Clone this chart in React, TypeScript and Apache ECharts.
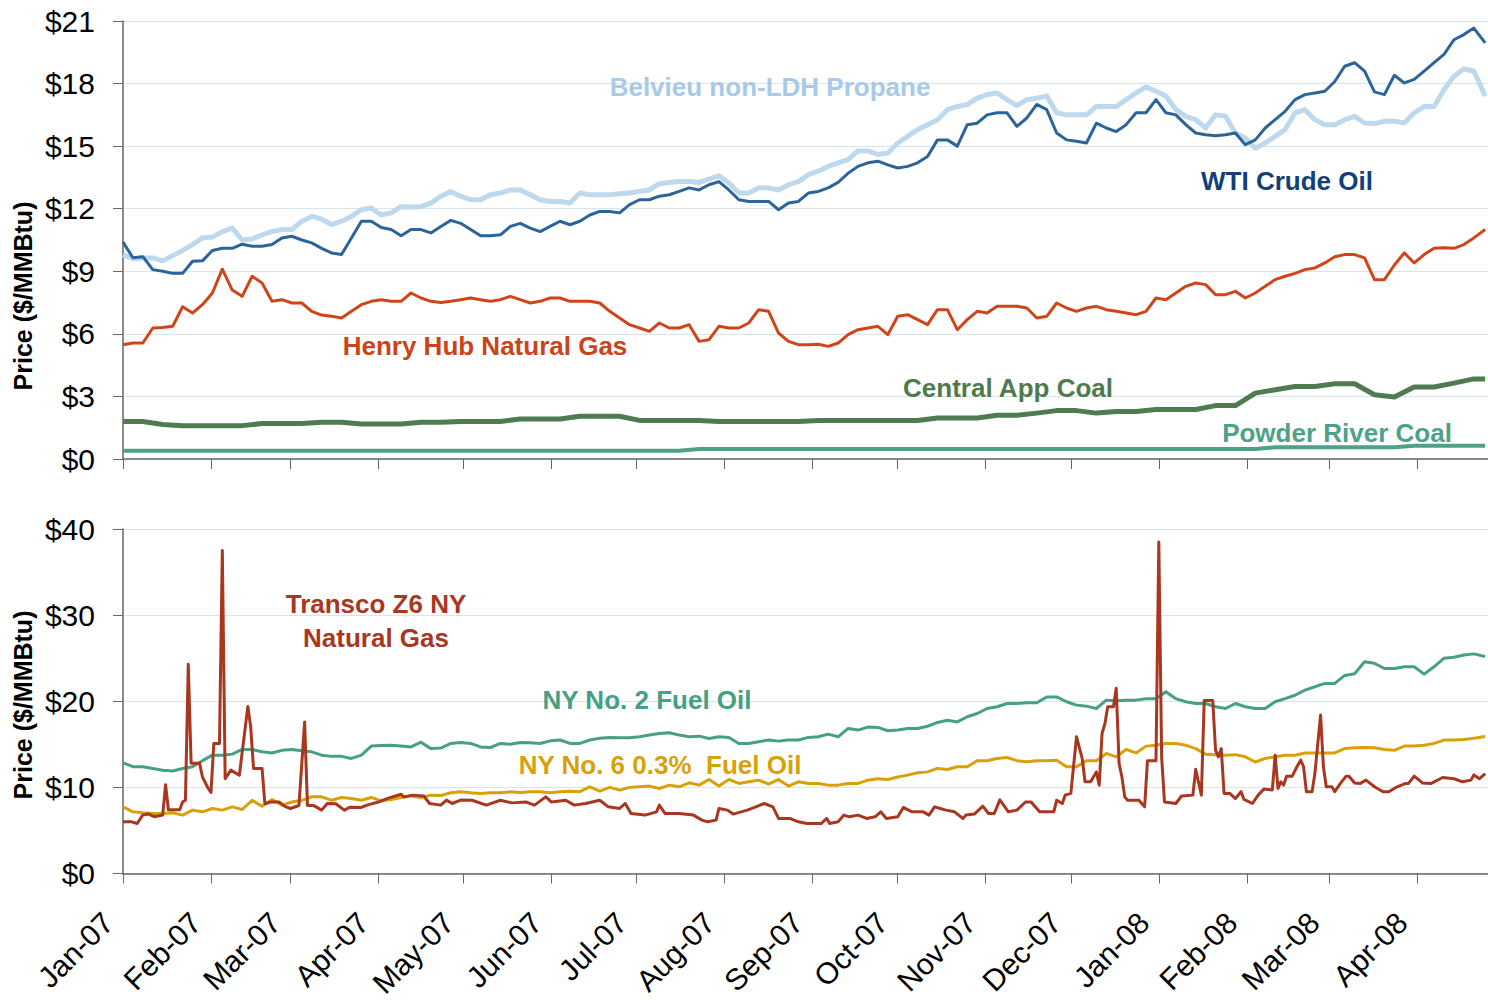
import React, { useEffect, useRef } from "react";
import * as echarts from "echarts";

const FONT = "'Liberation Sans', Arial, Helvetica, sans-serif";

// x positions are days since 1 Jan 2007
const monthDays = [0, 31, 59, 90, 120, 151, 181, 212, 243, 273, 304, 334, 365, 396, 425, 456];
const monthLabels = ["Jan-07", "Feb-07", "Mar-07", "Apr-07", "May-07", "Jun-07", "Jul-07", "Aug-07", "Sep-07", "Oct-07", "Nov-07", "Dec-07", "Jan-08", "Feb-08", "Mar-08", "Apr-08"];

const weekDays = [0, 7, 14, 21, 28, 35, 42, 49, 56, 63, 70, 77, 84, 91, 98, 105, 112, 119, 126, 133, 140, 147, 154, 161, 168, 175, 182, 189, 196, 203, 210, 217, 224, 231, 238, 245, 252, 259, 266, 273, 280, 287, 294, 301, 308, 315, 322, 329, 336, 343, 350, 357, 364, 371, 378, 385, 392, 399, 406, 413, 420, 427, 434, 441, 448, 455, 462, 469, 476, 480];

const midWeekDays = [3.5, 10.5, 17.5, 24.5, 31.5, 38.5, 45.5, 52.5, 59.5, 66.5, 73.5, 80.5, 87.5, 94.5, 101.5, 108.5, 115.5, 122.5, 129.5, 136.5, 143.5, 150.5, 157.5, 164.5, 171.5, 178.5, 185.5, 192.5, 199.5, 206.5, 213.5, 220.5, 227.5, 234.5, 241.5, 248.5, 255.5, 262.5, 269.5, 276.5, 283.5, 290.5, 297.5, 304.5, 311.5, 318.5, 325.5, 332.5, 339.5, 346.5, 353.5, 360.5, 367.5, 374.5, 381.5, 388.5, 395.5, 402.5, 409.5, 416.5, 423.5, 430.5, 437.5, 444.5, 451.5, 458.5, 465.5, 472.5];

const wtiCrude = [10.4, 9.7, 9.0, 8.9, 9.5, 10.1, 10.3, 10.2, 10.6, 10.5,
  10.1, 9.8, 11.4, 11.1, 10.7, 11.0, 11.15, 11.3, 10.7, 10.75,
  11.3, 10.9, 11.4, 11.4, 11.87, 11.8, 12.43, 12.6, 12.83, 12.9,
  13.3, 12.43, 12.35, 11.95, 12.35, 12.83, 13.26, 14.03, 14.28, 13.95,
  14.2, 15.3, 15.0, 16.1, 16.6, 15.95, 17.0, 15.63, 15.23, 16.1,
  15.7, 16.6, 17.23, 16.5, 15.63, 15.5, 15.63, 15.3, 16.27, 17.23,
  17.55, 18.1, 19.0, 17.6, 18.4, 18.2, 19.0, 20.1, 20.66, 19.95];
const wtiCrudeMid = [9.65, 9.08, 8.9, 9.48, 10.0, 10.1, 10.2, 10.28, 10.68, 10.36, 9.88, 10.6, 11.4, 11.0, 11.0, 10.84, 11.44,
  11.0, 10.7, 11.15, 11.07, 11.15, 11.23, 11.7, 11.87, 12.2, 12.43, 12.67, 13.0, 13.15, 12.9, 12.35, 12.35, 12.27, 12.75,
  13.0, 13.7, 14.2, 14.1, 14.03, 14.5, 15.3, 16.03, 16.5, 16.6, 16.35, 16.75, 15.3, 15.15, 15.87, 16.03, 16.6, 16.6,
  16.03, 15.55, 15.55, 15.07, 15.87, 16.67, 17.47, 17.63, 18.83, 18.6, 17.47, 18.03, 18.6, 19.4, 20.35];

const propane = [9.8, 9.64, 9.5, 10.0, 10.6, 10.9, 10.5, 10.75, 11.0, 11.4,
  11.5, 11.4, 11.95, 11.7, 12.1, 12.1, 12.6, 12.6, 12.43, 12.75,
  12.9, 12.43, 12.35, 12.75, 12.67, 12.72, 12.83, 13.2, 13.3, 13.26,
  13.58, 12.75, 13.0, 12.9, 13.3, 13.8, 14.2, 14.77, 14.6, 15.15,
  15.8, 16.27, 16.9, 17.3, 17.55, 16.95, 17.3, 16.6, 16.5, 16.9,
  16.9, 17.55, 17.63, 16.75, 16.27, 16.5, 15.63, 14.9, 15.47, 16.59,
  16.27, 16.03, 16.43, 16.08, 16.2, 16.6, 16.9, 18.35, 18.6, 17.4];
const propaneMid = [9.6, 9.64, 9.75, 10.28, 10.64, 11.07, 10.55, 10.9, 11.0, 11.63, 11.24, 11.63, 12.03, 11.8, 12.08, 12.27, 12.83,
  12.43, 12.67, 12.9, 12.67, 12.35, 12.27, 12.67, 12.67, 12.75, 12.9, 13.26, 13.3, 13.42, 13.23, 12.75, 13.0, 13.15, 13.63,
  14.03, 14.35, 14.77, 14.67, 15.47, 16.03, 16.75, 16.99, 17.47, 17.23, 17.23, 17.4, 16.5, 16.5, 16.9, 17.23, 17.84, 17.4,
  16.43, 15.87, 16.43, 15.39, 15.15, 15.79, 16.75, 16.03, 16.27, 16.11, 16.19, 16.11, 16.9, 17.7, 18.7];

const henryHub = [5.48, 5.56, 6.3, 7.3, 7.4, 9.1, 7.8, 8.44, 7.64, 7.48,
  6.9, 6.76, 7.4, 7.64, 7.56, 7.72, 7.5, 7.64, 7.64, 7.64,
  7.64, 7.56, 7.72, 7.56, 7.48, 6.76, 6.28, 6.52, 6.28, 5.64,
  6.36, 6.28, 7.16, 6.04, 5.48, 5.5, 5.56, 6.2, 6.36, 6.84,
  6.68, 7.16, 6.2, 7.08, 7.32, 7.32, 6.76, 7.48, 7.08, 7.32,
  7.08, 6.92, 7.72, 7.96, 8.44, 7.88, 8.04, 7.96, 8.6, 8.9,
  9.16, 9.7, 9.8, 8.6, 9.3, 9.4, 10.1, 10.1, 10.6, 11.0];
const henryHubMid = [5.56, 6.28, 6.36, 7.0, 7.96, 8.1, 8.76, 7.56, 7.48, 7.08, 6.84, 7.08, 7.56, 7.56, 7.96, 7.56, 7.56,
  7.72, 7.56, 7.8, 7.48, 7.72, 7.56, 7.56, 7.08, 6.44, 6.12, 6.28, 6.44, 5.72, 6.28, 6.52, 7.08, 5.64, 5.48,
  5.4, 5.96, 6.28, 5.96, 6.92, 6.44, 7.16, 6.68, 7.0, 7.32, 7.24, 6.84, 7.24, 7.24, 7.16, 7.0, 7.08, 7.64,
  8.28, 8.36, 7.88, 7.72, 8.28, 8.76, 9.08, 9.4, 9.8, 9.64, 8.6, 9.88, 9.8, 10.13, 10.28];

const centralAppCoal = [1.8, 1.8, 1.65, 1.6, 1.6, 1.6, 1.6, 1.7, 1.7, 1.7,
  1.76, 1.76, 1.68, 1.68, 1.68, 1.76, 1.76, 1.8, 1.8, 1.8,
  1.92, 1.92, 1.92, 2.05, 2.05, 2.05, 1.85, 1.85, 1.85, 1.85,
  1.8, 1.8, 1.8, 1.8, 1.8, 1.85, 1.85, 1.85, 1.85, 1.85,
  1.85, 1.97, 1.97, 1.97, 2.1, 2.1, 2.2, 2.32, 2.32, 2.2,
  2.28, 2.28, 2.37, 2.37, 2.37, 2.56, 2.56, 3.16, 3.32, 3.48,
  3.48, 3.61, 3.61, 3.08, 2.97, 3.45, 3.45, 3.64, 3.84, 3.84];

const powderRiverCoal = [0.4, 0.4, 0.4, 0.4, 0.4, 0.4, 0.4, 0.4, 0.4, 0.4,
  0.4, 0.4, 0.4, 0.4, 0.4, 0.4, 0.4, 0.4, 0.4, 0.4,
  0.4, 0.4, 0.4, 0.4, 0.4, 0.4, 0.4, 0.4, 0.4, 0.48,
  0.48, 0.48, 0.48, 0.48, 0.48, 0.48, 0.48, 0.48, 0.48, 0.48,
  0.48, 0.48, 0.48, 0.48, 0.48, 0.48, 0.48, 0.48, 0.48, 0.48,
  0.48, 0.48, 0.48, 0.48, 0.48, 0.48, 0.48, 0.48, 0.56, 0.56,
  0.56, 0.56, 0.56, 0.56, 0.56, 0.64, 0.64, 0.64, 0.64, 0.64];

const nyNo2FuelOil = [12.85, 12.4, 12.0, 12.2, 13.1, 13.74, 14.4, 14.13, 14.3, 14.25,
  13.74, 13.6, 13.74, 14.87, 14.8, 15.25, 14.56, 15.2, 14.7, 15.1,
  15.2, 15.1, 15.5, 15.1, 15.7, 15.76, 15.87, 16.26, 16.07, 15.95,
  15.87, 15.1, 15.3, 15.37, 15.5, 15.87, 15.87, 16.65, 16.96, 16.65,
  16.84, 17.54, 17.6, 18.58, 19.36, 19.74, 19.82, 20.5, 19.55, 19.16,
  20.05, 20.13, 20.3, 20.3, 19.74, 19.36, 19.74, 19.16, 19.94, 20.7,
  21.68, 22.07, 23.2, 24.4, 23.8, 24.0, 24.0, 25.1, 25.5, 25.2];
const nyNo2FuelOilMid = [12.4, 12.2, 11.9, 12.4, 13.74, 13.86, 14.4, 14.0, 14.4, 14.13, 13.6, 13.36, 14.8, 14.9, 14.7, 14.5, 15.1,
  15.1, 14.63, 15.0, 15.18, 15.4, 15.1, 15.5, 15.8, 15.76, 16.07, 16.34, 15.87, 15.68, 15.8, 15.1, 15.5, 15.5, 15.8,
  16.18, 16.84, 17.0, 16.57, 16.84, 17.1, 17.8, 18.2, 19.16, 19.74, 19.82, 20.5, 19.94, 19.43, 20.13, 20.13, 20.3, 21.1,
  19.94, 19.74, 19.16, 19.36, 19.16, 20.3, 21.3, 22.07, 23.0, 24.58, 23.8, 24.0, 23.15, 25.0, 25.36];

const nyNo6FuelOil = [7.74, 7.05, 6.97, 6.78, 7.16, 7.36, 7.43, 7.82, 7.94, 8.5,
  8.9, 8.83, 8.5, 8.44, 8.83, 8.83, 9.06, 9.5, 9.3, 9.37,
  9.4, 9.5, 9.5, 9.5, 9.56, 9.68, 10.07, 9.87, 10.07, 10.26,
  10.15, 10.46, 10.84, 10.92, 10.65, 10.46, 10.26, 10.46, 11.0, 11.2,
  11.7, 12.2, 12.4, 13.1, 13.36, 13.1, 13.1, 13.16, 12.4, 13.1,
  13.55, 14.0, 14.9, 15.1, 14.5, 13.8, 13.8, 12.95, 13.55, 13.74,
  14.0, 14.0, 14.6, 14.6, 14.3, 14.8, 15.1, 15.5, 15.7, 15.9];
const nyNo6FuelOilMid = [7.16, 6.97, 7.05, 7.36, 7.55, 7.74, 8.5, 8.6, 8.3, 8.9, 8.5, 8.7, 8.83, 8.6, 9.0, 9.1, 9.37,
  9.37, 9.37, 9.48, 9.48, 9.37, 9.56, 10.07, 10.0, 10.0, 10.15, 10.26, 10.53, 10.92, 10.92, 10.65, 10.38, 10.15, 10.46,
  10.26, 10.46, 10.84, 10.92, 11.42, 11.8, 12.08, 12.39, 13.09, 13.47, 12.97, 13.09, 12.39, 13.09, 13.94, 14.4, 14.79, 15.1,
  14.9, 13.86, 13.74, 13.55, 13.36, 13.74, 14.0, 14.0, 14.5, 14.63, 14.4, 14.79, 14.9, 15.49, 15.56];

const transcoDays = [0, 3, 5, 7, 9, 11, 14, 15, 16, 20, 21, 22, 23, 24, 27, 28, 30, 31, 32, 34, 35, 36, 38, 41, 44, 45, 46, 49, 50, 52, 55, 57, 59, 62, 64, 65, 67, 68, 70, 72, 75, 78, 80, 84, 86, 90, 93, 98, 99, 102, 106, 108, 112, 114, 116, 119,
  123, 128, 133, 137, 142, 145, 149, 151, 156, 159, 163, 168, 171, 175, 177, 179, 184, 188, 189, 191, 196, 201, 204, 206, 209, 210, 213, 215, 220, 223, 226, 229, 231, 235, 238,
  241, 246, 248, 249, 252, 254, 256, 259, 262, 265, 267, 269, 273, 275, 278, 282, 284, 286, 288, 290, 293, 296, 297, 300, 303, 305, 307, 309, 312, 315, 318, 320, 323, 328, 329, 331, 332, 334, 336, 338, 339, 341, 343, 344, 345, 346, 347, 349, 350, 351, 352, 353, 354, 358, 360, 361, 364, 365, 366, 367,
  371, 373, 377, 378, 380, 381, 384, 385, 386, 387, 388, 390, 392, 394, 395, 398, 400, 402, 405, 406, 407, 408, 409, 410, 412, 414, 415, 416, 417, 419, 420, 422, 423, 424, 426, 427, 429, 431, 432, 434, 436, 438, 441, 444, 446, 449, 452, 453, 455, 458, 461, 465, 469, 472, 475, 476, 478, 480];

const transcoZ6 = [6.0, 6.0, 5.8, 6.8, 6.9, 6.6, 6.8, 10.3, 7.4, 7.4, 8.3, 8.5, 24.3, 12.8, 12.8, 11.2, 9.9, 9.4, 15.1, 15.1, 37.5, 11.0, 12.0, 11.4, 19.4, 17.0, 12.2, 12.2, 8.1, 8.3, 8.3, 7.8, 7.55, 7.9, 17.6, 7.9, 7.9, 7.74, 7.36, 8.13, 8.1, 7.36, 7.7, 7.67, 7.94, 8.3, 8.7, 9.2, 8.9, 9.1, 9.0, 8.13, 7.94, 8.52, 8.13, 8.52,
  8.5, 7.94, 8.5, 8.2, 8.3, 7.94, 8.9, 8.3, 8.5, 7.94, 8.13, 8.5, 7.74, 7.55, 8.13, 6.97, 6.78, 7.16, 7.94, 6.97, 6.97, 6.78, 6.2, 6.0, 6.2, 7.55, 7.36, 6.9, 7.36, 7.74, 8.13, 7.74, 6.39, 6.39, 6.0,
  5.8, 5.8, 6.39, 5.8, 6.0, 6.78, 6.58, 6.78, 6.39, 6.58, 7.16, 6.39, 6.58, 7.67, 7.16, 7.16, 6.78, 7.74, 7.55, 7.36, 7.16, 6.39, 6.78, 6.9, 7.82, 6.97, 6.97, 8.55, 7.16, 7.36, 8.3, 8.3, 7.16, 7.16, 8.5, 8.13, 9.1, 9.3, 15.87, 13.36, 10.65, 10.65, 11.8, 10.26, 16.26, 17.4, 19.36, 19.36, 21.5, 12.78, 11.2, 8.9, 8.5, 8.5, 7.74, 13.1, 13.1, 38.5, 13.5, 8.3,
  8.13, 9.0, 9.1, 12.1, 9.1, 20.1, 20.1, 14.3, 13.55, 14.5, 9.3, 9.3, 8.7, 9.5, 8.6, 8.13, 9.1, 9.8, 9.7, 13.74, 9.87, 10.65, 10.26, 11.3, 11.3, 12.6, 13.16, 12.4, 9.5, 9.5, 11.6, 18.4, 12.4, 10.07, 10.07, 9.5, 10.46, 11.3, 11.3, 10.5, 10.46, 10.84, 10.07, 9.5, 9.5, 10.07, 10.46, 10.46, 11.3, 10.5, 10.46, 11.15, 11.0, 10.65, 10.84, 11.45, 11.0, 11.6];

const pair = (days: number[], vals: number[]) => days.map((d, i) => [d, vals[i]]);
const merged = (daysA: number[], valsA: number[], daysB: number[], valsB: number[]) =>
  pair(daysA, valsA).concat(pair(daysB, valsB)).sort((a, b) => a[0] - b[0]);

function lineSeries(name: string, data: number[][], color: string, width: number, idx: number) {
  return {
    name,
    type: "line",
    xAxisIndex: idx,
    yAxisIndex: idx,
    data,
    showSymbol: false,
    symbol: "none",
    lineStyle: { color, width, join: "round" },
    itemStyle: { color },
  };
}

function label(text: string, x: number, y: number, color: string) {
  return {
    type: "text",
    x,
    y,
    z: 100,
    style: {
      text,
      fill: color,
      font: `bold 26px ${FONT}`,
      align: "center",
      verticalAlign: "middle",
      textAlign: "center",
      textVerticalAlign: "middle",
    },
  };
}

function axisName(x: number, y: number) {
  return {
    type: "text",
    x,
    y,
    rotation: Math.PI / 2,
    z: 100,
    style: {
      text: "Price ($/MMBtu)",
      fill: "#000",
      font: `bold 25px ${FONT}`,
      align: "center",
      verticalAlign: "middle",
      textAlign: "center",
      textVerticalAlign: "middle",
    },
  };
}

const AXIS_COLOR = "#666666";
const GRID_COLOR = "#d6e6ec";

function xAxis(idx: number) {
  return {
    type: "value",
    gridIndex: idx,
    min: 0,
    max: 481,
    axisLine: { show: true, onZero: false, lineStyle: { color: AXIS_COLOR, width: 1.5 } },
    axisTick: { show: true, customValues: monthDays, length: 10, lineStyle: { color: AXIS_COLOR, width: 1 } },
    axisLabel: { show: false },
    splitLine: { show: false },
  };
}

function yAxis(idx: number, max: number, interval: number) {
  return {
    type: "value",
    gridIndex: idx,
    min: 0,
    max,
    interval,
    axisLine: { show: true, lineStyle: { color: AXIS_COLOR, width: 1.5 } },
    axisTick: { show: true, length: 10, lineStyle: { color: AXIS_COLOR, width: 1 } },
    axisLabel: {
      formatter: (v: number) => "$" + v,
      fontSize: 30,
      fontFamily: FONT,
      color: "#000",
      margin: 28,
    },
    splitLine: { show: true, lineStyle: { color: GRID_COLOR, width: 1.2 } },
  };
}

export default function App() {
  const ref = useRef<HTMLDivElement>(null);

  useEffect(() => {
    if (!ref.current) return;
    const chart = echarts.init(ref.current, undefined, { renderer: "svg" });
    const baseGraphic: any[] = [
      axisName(23, 296),
      axisName(23, 705),
      label("Belvieu non-LDH Propane", 770, 87, "#a8c9e7"),
      label("WTI Crude Oil", 1287, 181, "#123f78"),
      label("Henry Hub Natural Gas", 485, 346, "#cc4318"),
      label("Central App Coal", 1008, 388, "#4e7b4e"),
      label("Powder River Coal", 1337, 433, "#4ea189"),
      label("Transco Z6 NY", 376, 604, "#a9371f"),
      label("Natural Gas", 376, 638, "#a9371f"),
      label("NY No. 2 Fuel Oil", 647, 700, "#45a085"),
      label("NY No. 6 0.3%  Fuel Oil", 660, 765, "#d8a109"),
    ];
    chart.setOption({
      animation: false,
      backgroundColor: "#ffffff",
      textStyle: { fontFamily: FONT },
      grid: [
        { left: 123, top: 21, right: 0, height: 438 },
        { left: 123, top: 529, right: 0, height: 344.5 },
      ],
      xAxis: [xAxis(0), xAxis(1)],
      yAxis: [yAxis(0, 21, 3), yAxis(1, 40, 10)],
      series: [
        lineSeries("Powder River Coal", pair(weekDays, powderRiverCoal), "#4ea189", 4, 0),
        lineSeries("Central App Coal", pair(weekDays, centralAppCoal), "#4f7b50", 5, 0),
        lineSeries("Henry Hub Natural Gas", merged(weekDays, henryHub, midWeekDays, henryHubMid), "#cf4519", 3, 0),
        lineSeries("Belvieu non-LDH Propane", merged(weekDays, propane, midWeekDays, propaneMid), "#bed8ee", 5, 0),
        lineSeries("WTI Crude Oil", merged(weekDays, wtiCrude, midWeekDays, wtiCrudeMid), "#2b6499", 3, 0),
        lineSeries("NY No. 2 Fuel Oil", merged(weekDays, nyNo2FuelOil, midWeekDays, nyNo2FuelOilMid), "#45a085", 3, 1),
        lineSeries("NY No. 6 0.3% Fuel Oil", merged(weekDays, nyNo6FuelOil, midWeekDays, nyNo6FuelOilMid), "#d8a109", 3, 1),
        lineSeries("Transco Z6 NY Natural Gas", pair(transcoDays, transcoZ6), "#a9371f", 3, 1),
      ],
      graphic: baseGraphic,
    });

    // month labels, positioned from the bottom x axis scale
    const axisY = chart.convertToPixel({ yAxisIndex: 1 } as any, 0) as unknown as number;
    const monthGraphic = monthDays.map((d, i) => {
      const px = chart.convertToPixel({ xAxisIndex: 1 } as any, d) as unknown as number;
      return {
        type: "text",
        x: px - 15,
        y: axisY + 44,
        rotation: Math.PI / 4,
        z: 100,
        style: {
          text: monthLabels[i],
          fill: "#000",
          font: `30px ${FONT}`,
          align: "right",
          verticalAlign: "middle",
          textAlign: "right",
          textVerticalAlign: "middle",
        },
      };
    });
    chart.setOption({ graphic: baseGraphic.concat(monthGraphic) });

    return () => chart.dispose();
  }, []);

  return (
    <div
      ref={ref}
      style={{ position: "absolute", left: 0, top: 0, width: 1488, height: 1000, background: "#fff" }}
    />
  );
}
